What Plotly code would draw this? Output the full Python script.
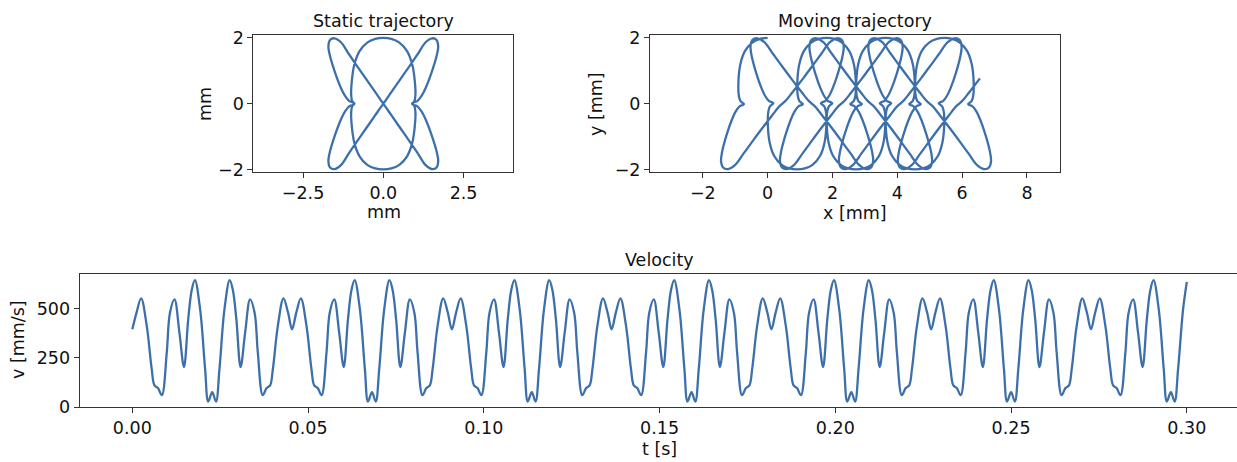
import plotly.graph_objects as go

# ---------------- data ----------------
# Static trajectory: one full period, time in ms, position in mm
static_t_ms = [0.0, 0.7, 1.25, 1.9, 2.9, 4.0, 5.5, 6.6, 7.6, 8.4, 9.1, 9.7, 10.3, 10.9, 11.8, 12.9, 13.6, 14.2, 14.7,
               15.5, 16.7, 17.4, 18.2, 19.6, 20.7, 21.9, 22.73,
               23.55, 24.75, 25.85, 27.25, 28.05, 28.75, 29.95, 30.75, 31.25, 31.85, 32.55, 33.65, 34.55, 35.15,
               35.75, 36.35, 37.05, 37.85, 38.85, 39.95, 41.45, 42.55, 43.55, 44.2, 44.75, 45.45,
               46.15, 46.7, 47.35, 48.35, 49.45, 50.95, 52.05, 53.05, 53.85, 54.55, 55.15, 55.75, 56.35, 57.25,
               58.35, 59.05, 59.65, 60.15, 60.95, 62.15, 62.85, 63.65, 65.05, 66.15, 67.35, 68.18,
               69.0, 70.2, 71.3, 72.7, 73.5, 74.2, 75.4, 76.2, 76.7, 77.3, 78.0, 79.1, 80.0, 80.6,
               81.2, 81.8, 82.5, 83.3, 84.3, 85.4, 86.9, 88.0, 89.0, 89.65, 90.2, 90.91]
static_x_mm = [0.0, -0.25, -0.50, -0.74, -0.90, -0.98, -1.00, -0.97, -0.92, -0.90, -0.95, -1.06, -1.20, -1.32, -1.50, -1.66, -1.71, -1.66, -1.52,
               -1.32, -1.08, -0.85, -0.55, -0.25, -0.08, -0.02, 0.0,
               0.02, 0.08, 0.25, 0.55, 0.85, 1.08, 1.32, 1.52, 1.66, 1.71, 1.66, 1.50, 1.32, 1.20,
               1.06, 0.95, 0.90, 0.92, 0.97, 1.00, 0.98, 0.90, 0.74, 0.50, 0.25, 0.0,
               -0.25, -0.50, -0.74, -0.90, -0.98, -1.00, -0.97, -0.92, -0.90, -0.95, -1.06, -1.20, -1.32, -1.50,
               -1.66, -1.71, -1.66, -1.52, -1.32, -1.08, -0.85, -0.55, -0.25, -0.08, -0.02, 0.0,
               0.02, 0.08, 0.25, 0.55, 0.85, 1.08, 1.32, 1.52, 1.66, 1.71, 1.66, 1.50, 1.32, 1.20,
               1.06, 0.95, 0.90, 0.92, 0.97, 1.00, 0.98, 0.90, 0.74, 0.50, 0.25, 0.0]
static_y_mm = [2.0, 1.97, 1.86, 1.60, 1.20, 0.70, 0.25, 0.08, 0.02, -0.01, -0.04, -0.08, -0.25, -0.48, -0.94, -1.45, -1.75, -1.94, -1.99,
               -1.87, -1.52, -1.19, -0.77, -0.35, -0.11, -0.03, 0.0,
               0.03, 0.11, 0.35, 0.77, 1.19, 1.52, 1.87, 1.99, 1.94, 1.75, 1.45, 0.94, 0.48, 0.25,
               0.08, 0.04, 0.01, -0.02, -0.08, -0.25, -0.70, -1.20, -1.60, -1.86, -1.97, -2.0,
               -1.97, -1.86, -1.60, -1.20, -0.70, -0.25, -0.08, -0.02, 0.01, 0.04, 0.08, 0.25, 0.48, 0.94,
               1.45, 1.75, 1.94, 1.99, 1.87, 1.52, 1.19, 0.77, 0.35, 0.11, 0.03, 0.0,
               -0.03, -0.11, -0.35, -0.77, -1.19, -1.52, -1.87, -1.99, -1.94, -1.75, -1.45, -0.94, -0.48, -0.25,
               -0.08, -0.04, -0.01, 0.02, 0.08, 0.25, 0.70, 1.20, 1.60, 1.86, 1.97, 2.0]

period_ms = 90.91        # period of the static pattern
feed_mm_per_s = 20.0     # feed speed of the moving trajectory
duration_ms = 300.0

# Velocity (time in ms, speed in mm/s)
vel_t_ms = [
    0.0, 1.2, 2.5, 4.1, 5.5, 6.3, 7.3, 8.4, 9.8, 10.7, 12.0, 13.4, 14.7, 15.9, 16.9, 17.8, 19.3, 20.7, 21.6, 22.73,
    23.8, 24.8, 26.2, 27.7, 28.6, 29.6, 30.8, 32.1, 33.5, 34.8, 35.7, 37.1, 38.2, 39.2, 40.0, 41.4, 43.0, 44.3,
    45.45, 46.65, 47.95, 49.55, 50.95, 51.75, 52.75, 53.85, 55.25, 56.15, 57.45, 58.85, 60.15, 61.35, 62.35, 63.25, 64.75, 66.15, 67.05, 68.18,
    69.25, 70.25, 71.65, 73.15, 74.05, 75.05, 76.25, 77.55, 78.95, 80.25, 81.15, 82.55, 83.65, 84.65, 85.45, 86.85, 88.45, 89.75,
    90.91, 92.11, 93.41, 95.01, 96.41, 97.21, 98.21, 99.31, 100.71, 101.61, 102.91, 104.31, 105.61, 106.81, 107.81, 108.71, 110.21, 111.61, 112.51, 113.64,
    114.71, 115.71, 117.11, 118.61, 119.51, 120.51, 121.71, 123.01, 124.41, 125.71, 126.61, 128.01, 129.11, 130.11, 130.91, 132.31, 133.91, 135.21,
    136.36, 137.56, 138.86, 140.46, 141.86, 142.66, 143.66, 144.76, 146.16, 147.06, 148.36, 149.76, 151.06, 152.26, 153.26, 154.16, 155.66, 157.06, 157.96, 159.09,
    160.16, 161.16, 162.56, 164.06, 164.96, 165.96, 167.16, 168.46, 169.86, 171.16, 172.06, 173.46, 174.56, 175.56, 176.36, 177.76, 179.36, 180.66,
    181.82, 183.02, 184.32, 185.92, 187.32, 188.12, 189.12, 190.22, 191.62, 192.52, 193.82, 195.22, 196.52, 197.72, 198.72, 199.62, 201.12, 202.52, 203.42, 204.55,
    205.62, 206.62, 208.02, 209.52, 210.42, 211.42, 212.62, 213.92, 215.32, 216.62, 217.52, 218.92, 220.02, 221.02, 221.82, 223.22, 224.82, 226.12,
    227.27, 228.47, 229.77, 231.37, 232.77, 233.57, 234.57, 235.67, 237.07, 237.97, 239.27, 240.67, 241.97, 243.17, 244.17, 245.07, 246.57, 247.97, 248.87, 250.00,
    251.07, 252.07, 253.47, 254.97, 255.87, 256.87, 258.07, 259.37, 260.77, 262.07, 262.97, 264.37, 265.47, 266.47, 267.27, 268.67, 270.27, 271.57,
    272.73, 273.93, 275.23, 276.83, 278.23, 279.03, 280.03, 281.13, 282.53, 283.43, 284.73, 286.13, 287.43, 288.63, 289.63, 290.53, 292.03, 293.43, 294.33, 295.46,
    296.53, 297.53, 298.93, 300.0,
]
vel_v = [
    395, 480, 552, 412, 195, 110, 96, 60, 278, 478, 547, 378, 203, 445, 595, 645, 495, 195, 28, 75,
    28, 195, 495, 645, 595, 445, 203, 378, 547, 478, 278, 60, 96, 110, 195, 412, 552, 480,
    395, 480, 552, 412, 195, 110, 96, 60, 278, 478, 547, 378, 203, 445, 595, 645, 495, 195, 28, 75,
    28, 195, 495, 645, 595, 445, 203, 378, 547, 478, 278, 60, 96, 110, 195, 412, 552, 480,
    395, 480, 552, 412, 195, 110, 96, 60, 278, 478, 547, 378, 203, 445, 595, 645, 495, 195, 28, 75,
    28, 195, 495, 645, 595, 445, 203, 378, 547, 478, 278, 60, 96, 110, 195, 412, 552, 480,
    395, 480, 552, 412, 195, 110, 96, 60, 278, 478, 547, 378, 203, 445, 595, 645, 495, 195, 28, 75,
    28, 195, 495, 645, 595, 445, 203, 378, 547, 478, 278, 60, 96, 110, 195, 412, 552, 480,
    395, 480, 552, 412, 195, 110, 96, 60, 278, 478, 547, 378, 203, 445, 595, 645, 495, 195, 28, 75,
    28, 195, 495, 645, 595, 445, 203, 378, 547, 478, 278, 60, 96, 110, 195, 412, 552, 480,
    395, 480, 552, 412, 195, 110, 96, 60, 278, 478, 547, 378, 203, 445, 595, 645, 495, 195, 28, 75,
    28, 195, 495, 645, 595, 445, 203, 378, 547, 478, 278, 60, 96, 110, 195, 412, 552, 480,
    395, 480, 552, 412, 195, 110, 96, 60, 278, 478, 547, 378, 203, 445, 595, 645, 495, 195, 28, 75,
    28, 195, 495, 636,
]

static_xticks = [-2.5, 0.0, 2.5]
static_xticklabels = ["\u22122.5", "0.0", "2.5"]
traj_yticks = [-2, 0, 2]
traj_yticklabels = ["\u22122", "0", "2"]
moving_xticks = [-2, 0, 2, 4, 6, 8]
moving_xticklabels = ["\u22122", "0", "2", "4", "6", "8"]
vel_xticks = [0.0, 0.05, 0.10, 0.15, 0.20, 0.25, 0.30]
vel_xticklabels = ["0.00", "0.05", "0.10", "0.15", "0.20", "0.25", "0.30"]
vel_yticks = [0, 250, 500]

# ---------------- moving trajectory: static pattern + constant feed ----------------
moving_x, moving_y = [], []
k = 0
while k * period_ms <= duration_ms:
    for t, x, y in zip(static_t_ms, static_x_mm, static_y_mm):
        if k > 0 and t == 0.0:
            continue
        ta = t + k * period_ms
        if ta > duration_ms + 0.5:
            break
        moving_x.append(x + feed_mm_per_s * ta / 1000.0)
        moving_y.append(y)
    k += 1

vel_t_s = [t / 1000.0 for t in vel_t_ms]

# ---------------- figure ----------------
W, H = 1237, 462
LINE = "#3d70ab"
FONT = dict(family="DejaVu Sans", size=17.5, color="#111111")
AX = dict(showline=True, linecolor="#333333", linewidth=1, ticks="outside", ticklen=5,
          tickwidth=1, tickcolor="#333333", showgrid=False, zeroline=False, tickfont=FONT,
          automargin=False)

def px_x(p):
    return p / W

def px_y(p):
    return 1 - p / H

fig = go.Figure()
fig.add_trace(go.Scatter(x=static_x_mm, y=static_y_mm, mode="lines", line=dict(color=LINE, width=2.3, shape="spline"),
                         xaxis="x", yaxis="y", showlegend=False))
fig.add_trace(go.Scatter(x=moving_x, y=moving_y, mode="lines", line=dict(color=LINE, width=2.3, shape="spline"),
                         xaxis="x2", yaxis="y2", showlegend=False))
fig.add_trace(go.Scatter(x=vel_t_s, y=vel_v, mode="lines", line=dict(color=LINE, width=2.3, shape="spline"),
                         xaxis="x3", yaxis="y3", showlegend=False))

top_dom = [px_y(172.4), px_y(35.0)]
fig.update_layout(
    template="none",
    width=W, height=H, margin=dict(l=0, r=0, t=0, b=0, pad=0),
    paper_bgcolor="white", plot_bgcolor="white", font=FONT,
    xaxis=dict(AX, domain=[px_x(253.3), px_x(513.3)], range=[-4.05, 4.05], mirror=True,
               tickvals=static_xticks, ticktext=static_xticklabels, anchor="y"),
    yaxis=dict(AX, domain=top_dom, range=[-2.09, 2.09], mirror=True,
               tickvals=traj_yticks, ticktext=traj_yticklabels, anchor="x"),
    xaxis2=dict(AX, domain=[px_x(650), px_x(1060)], range=[-3.63, 9.02], mirror=True,
                tickvals=moving_xticks, ticktext=moving_xticklabels, anchor="y2"),
    yaxis2=dict(AX, domain=top_dom, range=[-2.09, 2.09], mirror=True,
                tickvals=traj_yticks, ticktext=traj_yticklabels, anchor="x2"),
    xaxis3=dict(AX, domain=[px_x(79.6), 1.0], range=[-0.015, 0.31428], mirror=True,
                tickvals=vel_xticks, ticktext=vel_xticklabels, anchor="y3"),
    yaxis3=dict(AX, domain=[px_y(407.0), px_y(274.0)], range=[0, 676], mirror=False,
                tickvals=vel_yticks, anchor="x3"),
)

def label(text, x, y, angle=0):
    fig.add_annotation(text=text, x=px_x(x), y=px_y(y), xref="paper", yref="paper",
                       showarrow=False, textangle=angle, font=FONT, xanchor="center", yanchor="middle")

label("Static trajectory", 383.3, 21)
label("Moving trajectory", 855, 21)
label("Velocity", 659.5, 260)
label("mm", 383.7, 212)
label("mm", 205, 104, -90)
label("x [mm]", 855, 213)
label("y [mm]", 596, 104, -90)
label("t [s]", 659.5, 449)
label("v [mm/s]", 18, 340, -90)

fig.write_html("out.html",
               config={"displayModeBar": False},
               post_script="document.body.style.margin='0';document.body.style.padding='0';"
                           "document.body.style.overflow='hidden';")
